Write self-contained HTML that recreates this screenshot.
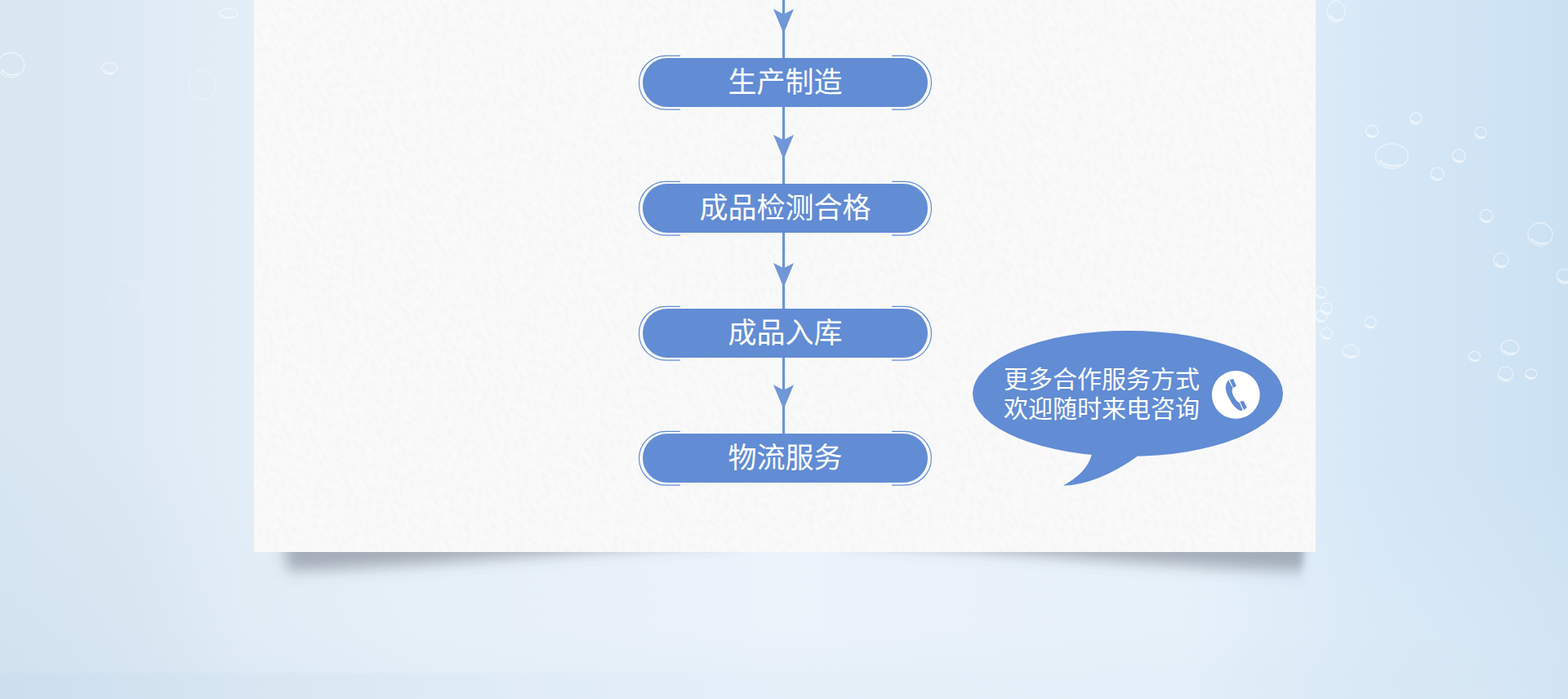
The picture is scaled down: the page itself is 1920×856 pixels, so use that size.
<!DOCTYPE html>
<html lang="zh-CN">
<head>
<meta charset="utf-8">
<title>合作流程</title>
<style>
html,body{margin:0;padding:0;}
body{width:1920px;height:856px;overflow:hidden;position:relative;
  font-family:"Liberation Sans","Noto Sans CJK SC",sans-serif;
  background:#dfebf6;}
.bg{position:absolute;left:0;top:0;width:1920px;height:856px;
  background:
    linear-gradient(to right, rgba(188,212,232,.22) 0, rgba(188,212,232,.14) 400px, rgba(188,212,232,.04) 1100px, rgba(188,212,232,0) 1500px) 0 824px/1920px 32px no-repeat,
    linear-gradient(to bottom, rgba(205,225,240,0) 770px, rgba(205,225,240,.13) 824px, rgba(205,225,240,.13) 856px),
    radial-gradient(ellipse 420px 300px at 1800px 860px, rgba(230,240,248,.38) 0, rgba(230,240,248,0) 100%),
    radial-gradient(ellipse 520px 340px at 0 856px, rgba(190,212,230,.26) 0, rgba(190,212,230,0) 100%),
    linear-gradient(to right, #d8e7f2 0, #dde9f4 150px, #e4eef7 300px, #e5eff8 420px, #ebf3fb 960px, #e7f1fa 1450px, #dcebf8 1611px, #d6e8f7 1680px, #cbe1f2 1920px);}
.paper{position:absolute;left:311px;top:0;width:1300px;height:676px;background:#fafafa;z-index:2;overflow:hidden;}
svg.art{position:absolute;left:0;top:0;z-index:3;}
.lbl{position:absolute;z-index:4;color:#fff;white-space:nowrap;text-align:center;margin:0;font-family:"Liberation Sans","Noto Sans CJK SC",sans-serif;}
.node{font-size:35px;line-height:60px;left:787px;width:349px;height:60px;}
.tip{font-size:30px;line-height:36px;left:1229px;width:240px;top:447px;text-align:left;}
</style>
</head>
<body>
<div class="bg"></div>

<svg class="deco" width="1920" height="856" viewBox="0 0 1920 856" style="position:absolute;left:0;top:0;z-index:1" fill="none">
<ellipse cx="1680" cy="161" rx="7.5" ry="7.5" stroke="#fff" stroke-opacity=".55" stroke-width="1.3"/>
<path d="M1674.4 163.6A7.5 7.5 0 0 0 1684.1 166.2" stroke="#fff" stroke-opacity=".6" stroke-width="2"/>
<ellipse cx="1733.6" cy="145" rx="7" ry="7" stroke="#fff" stroke-opacity=".55" stroke-width="1.3"/>
<path d="M1728.3 147.4A7 7 0 0 0 1737.4 149.9" stroke="#fff" stroke-opacity=".6" stroke-width="2"/>
<ellipse cx="1813" cy="162.6" rx="7" ry="7" stroke="#fff" stroke-opacity=".55" stroke-width="1.3"/>
<path d="M1807.8 165.0A7 7 0 0 0 1816.8 167.5" stroke="#fff" stroke-opacity=".6" stroke-width="2"/>
<ellipse cx="1704.2" cy="191.1" rx="20" ry="15" stroke="#fff" stroke-opacity=".55" stroke-width="1.3"/>
<path d="M1689.2 196.3A20 15 0 0 0 1715.2 201.6" stroke="#fff" stroke-opacity=".6" stroke-width="2"/>
<ellipse cx="1786.4" cy="191.1" rx="8" ry="8" stroke="#fff" stroke-opacity=".55" stroke-width="1.3"/>
<path d="M1780.4 193.9A8 8 0 0 0 1790.8 196.7" stroke="#fff" stroke-opacity=".6" stroke-width="2"/>
<ellipse cx="1759.8" cy="213.1" rx="8" ry="8" stroke="#fff" stroke-opacity=".55" stroke-width="1.3"/>
<path d="M1753.8 215.9A8 8 0 0 0 1764.2 218.7" stroke="#fff" stroke-opacity=".6" stroke-width="2"/>
<ellipse cx="1820" cy="264.5" rx="8" ry="8" stroke="#fff" stroke-opacity=".55" stroke-width="1.3"/>
<path d="M1814.0 267.3A8 8 0 0 0 1824.4 270.1" stroke="#fff" stroke-opacity=".6" stroke-width="2"/>
<ellipse cx="1886" cy="287" rx="15" ry="14" stroke="#fff" stroke-opacity=".55" stroke-width="1.3"/>
<path d="M1874.8 291.9A15 14 0 0 0 1894.2 296.8" stroke="#fff" stroke-opacity=".6" stroke-width="2"/>
<ellipse cx="1837.9" cy="318.7" rx="9" ry="9" stroke="#fff" stroke-opacity=".55" stroke-width="1.3"/>
<path d="M1831.2 321.8A9 9 0 0 0 1842.9 325.0" stroke="#fff" stroke-opacity=".6" stroke-width="2"/>
<ellipse cx="1915.4" cy="338.3" rx="9" ry="9" stroke="#fff" stroke-opacity=".55" stroke-width="1.3"/>
<path d="M1908.7 341.4A9 9 0 0 0 1920.4 344.6" stroke="#fff" stroke-opacity=".6" stroke-width="2"/>
<ellipse cx="1617.8" cy="358.4" rx="7" ry="7" stroke="#fff" stroke-opacity=".55" stroke-width="1.3"/>
<path d="M1612.5 360.8A7 7 0 0 0 1621.6 363.3" stroke="#fff" stroke-opacity=".6" stroke-width="2"/>
<ellipse cx="1624.3" cy="378" rx="7" ry="7" stroke="#fff" stroke-opacity=".55" stroke-width="1.3"/>
<path d="M1619.0 380.4A7 7 0 0 0 1628.1 382.9" stroke="#fff" stroke-opacity=".6" stroke-width="2"/>
<ellipse cx="1617.8" cy="387.4" rx="7" ry="7" stroke="#fff" stroke-opacity=".55" stroke-width="1.3"/>
<path d="M1612.5 389.8A7 7 0 0 0 1621.6 392.3" stroke="#fff" stroke-opacity=".6" stroke-width="2"/>
<ellipse cx="1624.3" cy="408.4" rx="7" ry="7" stroke="#fff" stroke-opacity=".55" stroke-width="1.3"/>
<path d="M1619.0 410.8A7 7 0 0 0 1628.1 413.3" stroke="#fff" stroke-opacity=".6" stroke-width="2"/>
<ellipse cx="1678" cy="394.9" rx="7" ry="7" stroke="#fff" stroke-opacity=".55" stroke-width="1.3"/>
<path d="M1672.8 397.3A7 7 0 0 0 1681.8 399.8" stroke="#fff" stroke-opacity=".6" stroke-width="2"/>
<ellipse cx="1653.7" cy="430.4" rx="10" ry="8" stroke="#fff" stroke-opacity=".55" stroke-width="1.3"/>
<path d="M1646.2 433.2A10 8 0 0 0 1659.2 436.0" stroke="#fff" stroke-opacity=".6" stroke-width="2"/>
<ellipse cx="1805.6" cy="436.4" rx="7" ry="6" stroke="#fff" stroke-opacity=".55" stroke-width="1.3"/>
<path d="M1800.3 438.5A7 6 0 0 0 1809.4 440.6" stroke="#fff" stroke-opacity=".6" stroke-width="2"/>
<ellipse cx="1849" cy="425.7" rx="11" ry="9" stroke="#fff" stroke-opacity=".55" stroke-width="1.3"/>
<path d="M1840.8 428.8A11 9 0 0 0 1855.0 432.0" stroke="#fff" stroke-opacity=".6" stroke-width="2"/>
<ellipse cx="1843.5" cy="458" rx="9" ry="9" stroke="#fff" stroke-opacity=".55" stroke-width="1.3"/>
<path d="M1836.8 461.1A9 9 0 0 0 1848.5 464.3" stroke="#fff" stroke-opacity=".6" stroke-width="2"/>
<ellipse cx="1874.8" cy="458" rx="7" ry="6" stroke="#fff" stroke-opacity=".55" stroke-width="1.3"/>
<path d="M1869.5 460.1A7 6 0 0 0 1878.6 462.2" stroke="#fff" stroke-opacity=".6" stroke-width="2"/>
<ellipse cx="1636" cy="14" rx="11" ry="13" stroke="#fff" stroke-opacity=".55" stroke-width="1.3"/>
<path d="M1627.8 18.6A11 13 0 0 0 1642.0 23.1" stroke="#fff" stroke-opacity=".6" stroke-width="2"/>
<ellipse cx="13.75" cy="79.5" rx="16" ry="15" stroke="#fff" stroke-opacity="0.6" stroke-width="1.3"/>
<path d="M1.8 84.8A16 15 0 0 0 22.6 90.0" stroke="#fff" stroke-opacity="0.6" stroke-width="2"/>
<ellipse cx="134" cy="83.75" rx="9.5" ry="7" stroke="#fff" stroke-opacity="0.5" stroke-width="1.3"/>
<path d="M126.9 86.2A9.5 7 0 0 0 139.2 88.7" stroke="#fff" stroke-opacity="0.5" stroke-width="2"/>
<ellipse cx="280" cy="16.5" rx="11" ry="6" stroke="#fff" stroke-opacity="0.5" stroke-width="1.3"/>
<path d="M271.8 18.6A11 6 0 0 0 286.1 20.7" stroke="#fff" stroke-opacity="0.5" stroke-width="2"/>
<ellipse cx="247.5" cy="103.75" rx="16" ry="18" stroke="#fff" stroke-opacity="0.3" stroke-width="1.3"/>
<ellipse cx="155" cy="365" rx="20" ry="20" stroke="#fff" stroke-opacity="0.2" stroke-width="1.3"/>
</svg>
<svg width="1920" height="856" viewBox="0 0 1920 856" style="position:absolute;left:0;top:0;z-index:1">
<defs><filter id="sbl" x="-10%" y="-200%" width="120%" height="500%"><feGaussianBlur stdDeviation="9 9"/></filter><filter id="sbr" x="-10%" y="-200%" width="120%" height="500%"><feGaussianBlur stdDeviation="5 9"/></filter></defs>
<g fill="#5a636c" fill-opacity=".46">
<path filter="url(#sbl)" d="M345 640H900V664C700 674 520 694 352 699Z"/>
<path filter="url(#sbr)" d="M1601 640H1030V664C1230 674 1410 694 1594 699Z"/>
</g></svg>
<div class="paper"><svg width="1300" height="676" viewBox="0 0 1300 676" style="display:block"><defs><filter id="grain" x="0" y="0" width="100%" height="100%"><feTurbulence type="fractalNoise" baseFrequency=".11 .2" numOctaves="3" seed="7" result="n"/><feColorMatrix in="n" type="matrix" values="0 0 0 0 0  0 0 0 0 0  0 0 0 0 0  -1.2 0 0 0 .85"/></filter></defs><g transform="rotate(58 650 338)"><rect x="-150" y="-462" width="1600" height="1600" fill="#000" filter="url(#grain)" opacity=".026"/></g></svg></div>
<svg class="art" width="1920" height="856" viewBox="0 0 1920 856">
<rect x="957.9" y="0" width="3.2" height="561" fill="#6d95d6"/>
<path d="M947 11.0L959.5 17.5L972 11.0L959.5 41.0Z" fill="#7097d7"/>
<path d="M947 165.0L959.5 171.5L972 165.0L959.5 195.0Z" fill="#7097d7"/>
<path d="M947 322.0L959.5 328.5L972 322.0L959.5 352.0Z" fill="#7097d7"/>
<path d="M947 471.3L959.5 477.8L972 471.3L959.5 501.3Z" fill="#7097d7"/>
<path d="M833 68.4H815.4A32.9 32.9 0 0 0 815.4 134.2H833" fill="none" stroke="#628cd4" stroke-width="1.2"/>
<path d="M1092 68.4H1107.6A32.9 32.9 0 0 1 1107.6 134.2H1092" fill="none" stroke="#628cd4" stroke-width="1.2"/>
<rect x="787" y="71" width="349" height="60" rx="30" ry="30" fill="#628cd4"/>
<path d="M833 222.4H815.4A32.9 32.9 0 0 0 815.4 288.2H833" fill="none" stroke="#628cd4" stroke-width="1.2"/>
<path d="M1092 222.4H1107.6A32.9 32.9 0 0 1 1107.6 288.2H1092" fill="none" stroke="#628cd4" stroke-width="1.2"/>
<rect x="787" y="225" width="349" height="60" rx="30" ry="30" fill="#628cd4"/>
<path d="M833 375.4H815.4A32.9 32.9 0 0 0 815.4 441.2H833" fill="none" stroke="#628cd4" stroke-width="1.2"/>
<path d="M1092 375.4H1107.6A32.9 32.9 0 0 1 1107.6 441.2H1092" fill="none" stroke="#628cd4" stroke-width="1.2"/>
<rect x="787" y="378" width="349" height="60" rx="30" ry="30" fill="#628cd4"/>
<path d="M833 528.4H815.4A32.9 32.9 0 0 0 815.4 594.2H833" fill="none" stroke="#628cd4" stroke-width="1.2"/>
<path d="M1092 528.4H1107.6A32.9 32.9 0 0 1 1107.6 594.2H1092" fill="none" stroke="#628cd4" stroke-width="1.2"/>
<rect x="787" y="531" width="349" height="60" rx="30" ry="30" fill="#628cd4"/>
<ellipse cx="1381" cy="482" rx="190" ry="77" fill="#628cd4"/>
<path d="M1336.8 557.1Q1330.5 579.4 1301.7 594.7Q1343.6 593.6 1392.1 559.2L1392 540H1336Z" fill="#628cd4"/>
<circle cx="1513.3" cy="483.4" r="29.4" fill="#fff"/>
<path d="M1504.42 465.67L1509.47 475.20C1509.34 475.71 1508.76 477.17 1508.69 478.23C1508.61 479.30 1508.69 480.38 1509.03 481.60C1509.36 482.81 1510.01 484.22 1510.71 485.53C1511.41 486.83 1512.41 488.38 1513.23 489.45C1514.06 490.53 1514.89 491.35 1515.65 491.98C1516.40 492.61 1517.40 493.03 1517.75 493.25L1521.56 502.05C1521.27 502.23 1520.58 503.08 1519.80 503.09C1519.02 503.09 1518.07 502.79 1516.88 502.08C1515.69 501.37 1514.07 500.22 1512.67 498.82C1511.27 497.42 1509.73 495.46 1508.46 493.66C1507.20 491.87 1506.08 489.92 1505.10 488.05C1504.12 486.18 1503.23 484.22 1502.57 482.44C1501.92 480.66 1501.43 478.98 1501.17 477.39C1500.91 475.80 1500.86 474.31 1501.00 472.90C1501.14 471.50 1501.52 470.15 1502.01 468.98C1502.51 467.80 1503.65 466.36 1503.98 465.83ZM1505.66 465.05L1510.04 463.93L1513.96 472.79L1510.15 475.04ZM1518.28 491.98L1522.60 490.74L1526.87 499.16L1523.05 501.96Z" fill="#628cd4"/>
</svg>
<p class="lbl node" style="top:71px">生产制造</p>
<p class="lbl node" style="top:225px">成品检测合格</p>
<p class="lbl node" style="top:378px">成品入库</p>
<p class="lbl node" style="top:531px">物流服务</p>
<p class="lbl tip">更多合作服务方式<br>欢迎随时来电咨询</p>
</body></html>
